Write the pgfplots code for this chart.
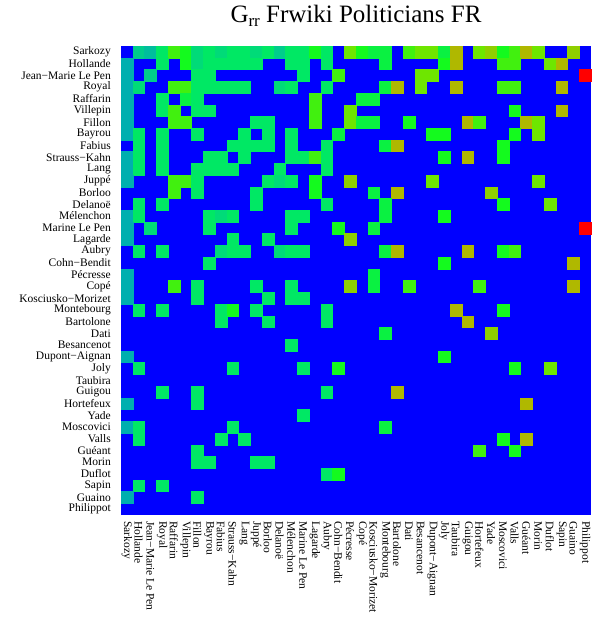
\documentclass[border=0pt]{standalone}
\usepackage{fontspec}
\setmainfont{Liberation Serif}
\usepackage{pgfplots}
\pgfplotsset{compat=1.18}
\pgfplotstableread{
x y c
1 0 2
2 0 1.5
3 0 3
4 0 4.5
5 0 4
6 0 2.5
7 0 3
8 0 2.5
9 0 3
10 0 3
11 0 2.5
12 0 3
13 0 2
14 0 3
15 0 3
16 0 4
17 0 3
19 0 5
20 0 4
21 0 3.5
22 0 3.5
24 0 4.5
25 0 5
26 0 5
27 0 3.5
28 0 6
30 0 5
31 0 5.5
32 0 4
33 0 4.5
34 0 6
35 0 5
38 0 5.5
0 1 1
3 1 3
5 1 4
6 1 2.5
7 1 3
8 1 3
9 1 3
10 1 3
11 1 3
14 1 3
15 1 3
17 1 3
22 1 3.5
27 1 4
28 1 6
32 1 4.5
33 1 4.5
36 1 5
37 1 6
0 2 1
2 2 2
6 2 3
7 2 3
15 2 3
18 2 4.5
25 2 5
26 2 5
39 2 7
0 3 1
1 3 2.5
4 3 4.5
5 3 4.5
6 3 3
7 3 3
8 3 3
9 3 3
10 3 3
13 3 2.5
14 3 3
17 3 3
22 3 3.5
23 3 6
25 3 5
28 3 6
32 3 4.5
33 3 4.5
37 3 6
0 4 1
3 4 3
5 4 3.5
6 4 3
16 4 4.5
20 4 3.5
21 4 3.5
0 5 1
3 5 3
4 5 4.5
6 5 3
7 5 3
16 5 4.5
19 5 5
33 5 4
37 5 6
0 6 1
4 6 4.5
5 6 4.5
11 6 3
12 6 3
16 6 4.5
19 6 5
20 6 3.5
21 6 3.5
24 6 4
29 6 6
30 6 4.5
34 6 6
35 6 5
0 7 1
1 7 3
3 7 3
6 7 3
10 7 3
12 7 3
14 7 3
18 7 3.5
26 7 4
27 7 4
33 7 4
35 7 5
1 8 3
3 8 3
9 8 3
10 8 3
11 8 3
12 8 3
14 8 3
17 8 3
22 8 3.5
23 8 6
32 8 4
0 9 1
1 9 3
3 9 3
7 9 3
8 9 3
10 9 3
14 9 3
15 9 3
16 9 4.5
17 9 3
27 9 4
29 9 6
32 9 4
0 10 1
1 10 3
3 10 3
6 10 3
7 10 3
8 10 3
9 10 3
13 10 3
17 10 3
0 11 1
4 11 4.5
5 11 4.5
6 11 3
12 11 3
13 11 2.5
14 11 3
16 11 4
19 11 5.5
26 11 5
35 11 5
4 12 4.5
6 12 3
11 12 3
16 12 4
21 12 3.5
23 12 6
31 12 5.5
1 13 3
3 13 3
11 13 3
17 13 3
22 13 3.5
32 13 4
36 13 5
0 14 1
1 14 3
7 14 3
8 14 2.5
9 14 3
14 14 3
15 14 3
22 14 3.5
27 14 4
0 15 1
2 15 2.5
7 15 3
14 15 3
18 15 4
21 15 3.5
39 15 7
0 16 1
9 16 3
12 16 3
19 16 5.5
1 17 3
3 17 3
8 17 2.5
9 17 3
10 17 3
13 17 2.5
14 17 3
15 17 3
22 17 3.5
23 17 6
29 17 6
32 17 4
33 17 4.5
7 18 3
27 18 4
38 18 6
0 19 1
21 19 3.5
0 20 1
4 20 4.5
6 20 3
11 20 3
14 20 3
19 20 5.5
21 20 3.5
24 20 4.5
30 20 4.5
38 20 6
0 21 1
6 21 3
12 21 3
14 21 3
15 21 3
1 22 3
3 22 3
8 22 3
9 22 4
11 22 3
17 22 3
28 22 6
32 22 4
8 23 3
12 23 3
17 23 3
29 23 6
22 24 3.5
31 24 5.5
14 25 3
0 26 1
27 26 4
1 27 3
9 27 3
15 27 3
18 27 4
33 27 4
36 27 5
3 29 3
6 29 3
17 29 3
23 29 6
0 30 1
6 30 3
34 30 6
15 31 3
0 32 1
1 32 3
9 32 3
22 32 3.5
1 33 3
8 33 3
10 33 3
32 33 4
34 33 6
6 34 3
30 34 4.5
33 34 4
6 35 3
7 35 3
11 35 3
12 35 3
17 36 3
18 36 4
1 37 3
3 37 3
0 38 1
6 38 3
}\cells
\begin{document}
\begin{tikzpicture}
\path[use as bounding box] (-121pt,-110pt) rectangle (474pt,515pt);
\begin{axis}[
  at={(0pt,0pt)}, anchor=south west,
  scale only axis, width=470pt, height=469pt,
  xmin=-0.5, xmax=39.5, ymin=-0.5, ymax=39.5, y dir=reverse,
  axis background/.style={fill={rgb,255:red,0;green,0;blue,255}},
  axis line style={draw=none},
  major tick length=0pt,
  xtick={0,...,39}, ytick={0,...,39},
  xticklabels={Sarkozy,Hollande,{Jean−Marie Le Pen},Royal,Raffarin,Villepin,Fillon,Bayrou,Fabius,Strauss−Kahn,Lang,Juppé,Borloo,Delanoë,Mélenchon,{Marine Le Pen},Lagarde,Aubry,Cohn−Bendit,Pécresse,Copé,Kosciusko−Morizet,Montebourg,Bartolone,Dati,Besancenot,Dupont−Aignan,Joly,Taubira,Guigou,Hortefeux,Yade,Moscovici,Valls,Guéant,Morin,Duflot,Sapin,Guaino,Philippot},
  yticklabels={Sarkozy,Hollande,{Jean−Marie Le Pen},Royal,Raffarin,Villepin,Fillon,Bayrou,Fabius,Strauss−Kahn,Lang,Juppé,Borloo,Delanoë,Mélenchon,{Marine Le Pen},Lagarde,Aubry,Cohn−Bendit,Pécresse,Copé,Kosciusko−Morizet,Montebourg,Bartolone,Dati,Besancenot,Dupont−Aignan,Joly,Taubira,Guigou,Hortefeux,Yade,Moscovici,Valls,Guéant,Morin,Duflot,Sapin,Guaino,Philippot},
  xticklabel style={rotate=-90, anchor=west, inner sep=0pt, font=\fontsize{11.5}{11.5}\selectfont},
  yticklabel style={anchor=east, inner sep=0pt, font=\fontsize{11.5}{11.5}\selectfont},
  xticklabel shift=6pt, yticklabel shift=10pt,
  title={G\raisebox{-0.35ex}{\fontsize{17}{17}\selectfont rr} Frwiki Politicians FR},
  title style={at={(0.5,1)}, anchor=base, yshift=18pt, inner sep=0pt, font=\fontsize{25}{30}\selectfont},
  colormap={grr}{rgb255(0cm)=(0,0,255); rgb255(1cm)=(0,175,175); rgb255(2cm)=(0,205,140); rgb255(3cm)=(0,232,100); rgb255(4cm)=(20,250,30); rgb255(5cm)=(110,230,0); rgb255(6cm)=(175,185,0); rgb255(7cm)=(255,0,0)},
  point meta min=0, point meta max=7,
]
\addplot[scatter, only marks, mark=square*, mark size=5.875pt, scatter src=explicit,
  scatter/use mapped color={draw=mapped color, fill=mapped color}, line width=0.2pt]
  table[x=x, y=y, meta=c] {\cells};
\end{axis}
\end{tikzpicture}
\end{document}
